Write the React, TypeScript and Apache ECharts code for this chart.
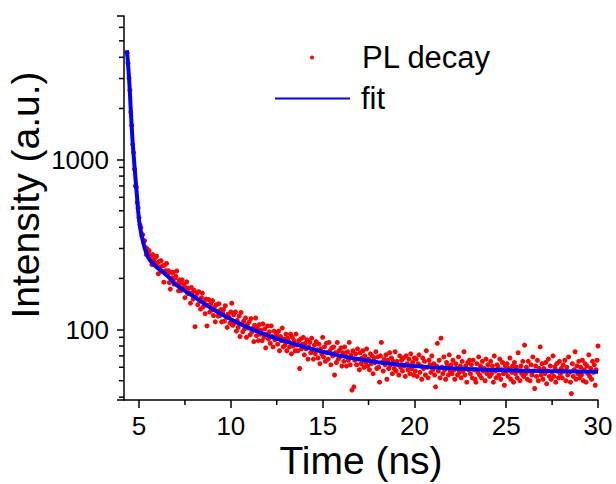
import React, { useEffect, useRef } from 'react';
import * as echarts from 'echarts';

// PL decay histogram (counts), time channels start at T0 with step DT (ns)
const T0 = 4.35;
const DT = 0.05;
const PL_COUNTS = [
  4250, 3700, 3020, 2560, 1900, 1590, 1230, 1100, 880, 700, 690, 560, 520, 455,
  413, 398, 357, 362, 328, 333, 304, 276, 298, 279, 291, 263, 271, 241, 276, 255, 263, 241, 270, 247,
  213, 252, 234, 254, 219, 237, 190, 240, 222, 245, 210, 222, 189, 173, 217, 202, 217, 185, 200, 206,
  221, 186, 169, 196, 187, 170, 196, 175, 184, 154,
  176, 191, 163, 175, 164, 143, 177, 165, 151, 170,
  104, 156, 163, 140, 167, 148, 132, 154, 164, 136,
  146, 124, 151, 105, 139, 150, 127, 141, 130, 148,
  121, 135, 111, 140, 128, 120, 142, 121, 131, 111,
  125, 131, 112, 138, 118, 103, 123, 118, 109, 127,
  143, 106, 122, 109, 127, 98, 113, 103, 120, 91,
  126, 108, 97, 112, 101, 117, 90, 107, 102, 111,
  93, 116, 97, 102, 85, 106, 117, 92, 102, 86,
  107, 94, 99, 86, 108, 90, 101, 78, 94, 105,
  88, 97, 83, 105, 91, 79, 98, 87, 92, 95,
  82, 98, 75, 91, 86, 102, 79, 88, 81, 94,
  75, 89, 85, 79, 94, 72, 90, 80, 86, 75,
  94, 81, 75, 86, 59, 88, 77, 82, 90, 71,
  83, 77, 87, 67, 79, 84, 73, 89, 76, 67,
  81, 72, 85, 76, 68, 82, 63, 77, 72, 90,
  69, 79, 65, 83, 73, 67, 84, 75, 62, 78,
  70, 79, 54, 73, 64, 84, 67, 75, 69, 78,
  61, 73, 65, 79, 70, 61, 74, 66, 84, 62,
  71, 44, 75, 46, 66, 72, 62, 77, 67, 58,
  73, 63, 68, 75, 60, 70, 64, 77, 61, 67,
  58, 72, 63, 70, 55, 68, 64, 74, 59, 69,
  60, 49, 70, 84, 64, 57, 67, 62, 71, 51,
  66, 59, 73, 62, 68, 55, 65, 59, 74, 57,
  65, 62, 54, 70, 60, 66, 57, 68, 61, 53,
  70, 63, 58, 67, 55, 72, 59, 64, 54, 68,
  57, 67, 53, 63, 71, 56, 61, 51, 68, 59, 65, 54, 75, 60, 52, 66, 62, 56, 70, 58,
  63, 54, 46, 61, 83, 57, 66, 52, 89, 60, 55, 69, 58, 51, 64, 61, 54, 71, 57, 62,
  55, 66, 58, 51, 63, 59, 54, 69, 56, 61, 52, 65, 57, 74, 54, 61, 49, 64, 58, 66,
  55, 62, 52, 66, 58, 51, 49, 63, 56, 69, 54, 61, 52, 65, 57, 59, 50, 67, 55, 62,
  58, 53, 65, 55, 61, 49, 70, 57, 52, 62, 60, 54, 67, 51, 58, 64, 55, 47, 61, 56,
  63, 53, 59, 68, 51, 56, 61, 49, 64, 55, 60, 52, 73, 57, 50, 61, 55, 65, 53, 81,
  55, 60, 51, 65, 57, 50, 62, 54, 69, 57, 45, 61, 53, 66, 50, 59, 79, 54, 63, 51,
  59, 55, 64, 48, 57, 67, 53, 61, 51, 56, 70, 53, 60, 49, 63, 57, 52, 65, 55, 59,
  52, 62, 57, 66, 50, 60, 54, 69, 56, 49, 42, 63, 53, 58, 74, 51, 61, 55, 65, 52,
  60, 54, 66, 50, 58, 63, 49, 61, 55, 71, 53, 59, 51, 65, 56, 62, 47, 58, 66, 80,
];

// Fitted curve
const FIT_T = [
  4.34, 4.4, 4.45, 4.5, 4.55, 4.6, 4.65, 4.7, 4.75, 4.8, 4.85, 4.9, 4.95, 5.0,
  5.1, 5.2, 5.3, 5.4, 5.5, 5.6, 5.7, 5.8, 6.0, 6.25, 6.5, 6.75, 7.0, 7.5, 8.0,
  8.5, 9.0, 9.5, 10.0, 10.5, 11.0, 11.5, 12.0, 12.5, 13.0, 13.5, 14.0, 14.5, 15.0,
  15.5, 16.0, 16.5, 17.0, 17.5, 18.0, 18.5, 19.0, 19.5, 20.0, 21, 22, 23, 24, 25,
  26, 27, 28, 29, 30,
];
const FIT_Y = [
  4400, 3650, 3080, 2500, 1950, 1560, 1270, 1080, 920, 790, 680, 585, 500, 440,
  375, 335, 303, 282, 266, 255, 248, 241, 231, 221, 209, 197, 184, 169, 156,
  143, 132, 123, 115, 108, 102, 97, 92.5, 88.5, 85, 82, 79, 76.5, 74,
  72, 70, 68.3, 66.8, 65.5, 64.3, 63.3, 62.4, 61.6, 61, 59.9, 59.1, 58.5, 58, 57.6,
  57.3, 57, 56.8, 56.6, 56.5,
];

const Y_MINOR_TICKS = [40, 50, 60, 70, 80, 90, 200, 300, 400, 500, 600, 700, 800, 900, 2000, 3000, 4000, 5000, 6000];
const X_MINOR_TICKS = [7.5, 12.5, 17.5, 22.5, 27.5];
const Y_LABELS = [100, 1000];
const X_MIN = 4.18;
const X_MAX = 30;
const Y_MIN = 38.5;
const Y_MAX = 7000;

export default function App() {
  const ref = useRef<HTMLDivElement>(null);
  useEffect(() => {
    const chart = echarts.init(ref.current!, null, { renderer: 'svg' });
    const font = "'Liberation Sans', Arial, sans-serif";
    const plData = PL_COUNTS.map((v, i) => [+(T0 + i * DT).toFixed(2), v]);
    const fitData = FIT_T.map((t, i) => [t, FIT_Y[i]]);
    const tickStyle = { stroke: '#000', lineWidth: 1.5 };
    chart.setOption({
      animation: false,
      backgroundColor: '#fff',
      grid: { left: 124, right: 18, top: 16, bottom: 84, containLabel: false, outerBoundsMode: 'none' },
      legend: [
        {
          orient: 'vertical',
          left: 310,
          top: 42,
          padding: 0,
          itemWidth: 4,
          itemHeight: 4,
          selectedMode: false,
          data: [{ name: 'PL decay', icon: 'circle' }],
          textStyle: { fontSize: 31, color: '#000', fontFamily: font, padding: [0, 0, 0, 43] },
        },
        {
          orient: 'vertical',
          left: 275,
          top: 83,
          padding: 0,
          itemWidth: 75,
          itemHeight: 2,
          selectedMode: false,
          data: [{ name: 'fit', icon: 'rect' }],
          textStyle: { fontSize: 31, color: '#000', fontFamily: font, padding: [0, 0, 0, 6] },
        },
      ],
      xAxis: {
        type: 'value',
        min: X_MIN,
        max: X_MAX,
        name: 'Time (ns)',
        nameLocation: 'middle',
        nameGap: 41,
        nameMoveOverlap: false,
        nameTextStyle: { fontSize: 39, color: '#000', fontFamily: font },
        axisLine: { show: true, lineStyle: { color: '#000', width: 1.5 } },
        axisTick: { show: true, inside: false, length: 8, lineStyle: { color: '#000', width: 1.5 } },
        axisLabel: { fontSize: 26, color: '#000', fontFamily: font, margin: 13, showMinLabel: false },
        splitLine: { show: false },
      },
      yAxis: {
        type: 'log',
        logBase: 10,
        min: Y_MIN,
        max: Y_MAX,
        name: 'Intensity (a.u.)',
        nameLocation: 'middle',
        nameGap: 79,
        nameMoveOverlap: false,
        nameTextStyle: { fontSize: 39, color: '#000', fontFamily: font, padding: [0, 0, 0, 26] },
        axisLine: { show: true, lineStyle: { color: '#000', width: 1.5 } },
        axisTick: { show: true, inside: false, length: 7, lineStyle: { color: '#000', width: 1.5 } },
        axisLabel: {
          fontSize: 26,
          color: '#000',
          fontFamily: font,
          margin: 15,
          formatter: (v: number) => (Y_LABELS.some((l) => Math.abs(l - v) < 1e-6) ? String(Math.round(v)) : ''),
        },
        splitLine: { show: false },
      },
      series: [
        {
          name: 'PL decay',
          type: 'scatter',
          data: plData,
          symbol: 'circle',
          symbolSize: 5,
          itemStyle: { color: '#ff0000', opacity: 1 },
          z: 2,
        },
        {
          name: 'fit',
          type: 'line',
          data: fitData,
          symbol: 'none',
          showSymbol: false,
          lineStyle: { color: '#0000ff', width: 4 },
          itemStyle: { color: '#0000ff' },
          z: 3,
        },
        {
          type: 'custom',
          silent: true,
          clip: false,
          z: 4,
          data: Y_MINOR_TICKS.map((v) => [X_MIN, v]),
          renderItem: (params: any, api: any) => {
            const p = api.coord([api.value(0), api.value(1)]);
            return { type: 'line', shape: { x1: p[0], y1: p[1], x2: p[0] - 5, y2: p[1] }, style: tickStyle };
          },
        },
        {
          type: 'custom',
          silent: true,
          clip: false,
          z: 4,
          data: X_MINOR_TICKS.map((v) => [v, Y_MIN]),
          renderItem: (params: any, api: any) => {
            const p = api.coord([api.value(0), api.value(1)]);
            return { type: 'line', shape: { x1: p[0], y1: p[1], x2: p[0], y2: p[1] + 5 }, style: tickStyle };
          },
        },
      ],
    });
    return () => chart.dispose();
  }, []);
  return <div ref={ref} style={{ position: 'fixed', left: 0, top: 0, width: 616, height: 484 }} />;
}
